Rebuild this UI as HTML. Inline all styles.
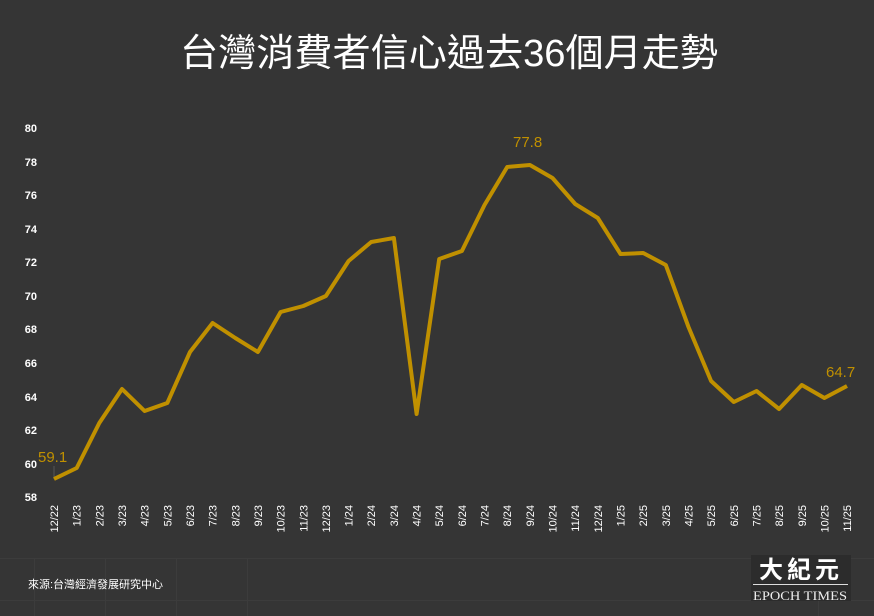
<!DOCTYPE html>
<html><head><meta charset="utf-8"><style>
body{margin:0;background:#353535;}
svg{display:block;font-family:"Liberation Sans","Noto Sans CJK TC",sans-serif;}
</style></head><body>
<svg width="874" height="616" viewBox="0 0 874 616">
<rect width="874" height="616" fill="#353535"/>
<g stroke="#3c3c3c" stroke-width="1">
<line x1="0" y1="558.5" x2="874" y2="558.5"/>
<line x1="0" y1="600.5" x2="874" y2="600.5"/>
<line x1="34.5" y1="558" x2="34.5" y2="616"/>
<line x1="105.5" y1="558" x2="105.5" y2="616"/>
<line x1="176.5" y1="558" x2="176.5" y2="616"/>
<line x1="247.5" y1="558" x2="247.5" y2="616"/>
<line x1="818.5" y1="558" x2="818.5" y2="616"/>
</g>
<text x="180" y="66" fill="#fff" font-size="38" textLength="538" lengthAdjust="spacingAndGlyphs">台灣消費者信心過去36個月走勢</text>
<g fill="#fff" font-size="11" font-weight="bold" text-anchor="end">
<text x="37" y="132">80</text><text x="37" y="166">78</text><text x="37" y="199">76</text>
<text x="37" y="233">74</text><text x="37" y="266">72</text><text x="37" y="300">70</text>
<text x="37" y="333">68</text><text x="37" y="367">66</text><text x="37" y="401">64</text>
<text x="37" y="434">62</text><text x="37" y="468">60</text><text x="37" y="501">58</text>
</g>
<line x1="54" y1="466" x2="54" y2="479" stroke="#555" stroke-width="1"/>
<polyline fill="none" stroke="#c09000" stroke-width="4" stroke-linejoin="round" points="54,479 76.7,468 99.3,423 122,389 144.6,411 167.3,403 190,352 212.6,323 235.3,338 257.9,352 280.6,312 303.3,306 325.9,296 348.6,261 371.2,242 393.9,238 416.6,414 439.2,259 461.9,251 484.5,205 507.2,167 529.9,165 552.5,178 575.2,204 597.8,218 620.5,254 643.2,253 665.8,265 688.5,327 711.1,381 733.8,402 756.5,391 779.1,409 801.8,385 824.4,398 847,386"/>
<g fill="#c09000" font-size="15">
<text x="38" y="462">59.1</text>
<text x="513" y="147">77.8</text>
<text x="826" y="377">64.7</text>
</g>
<g fill="#fff" font-size="11" text-anchor="end">
<text transform="translate(58,505) rotate(-90)">12/22</text>
<text transform="translate(80.7,505) rotate(-90)">1/23</text>
<text transform="translate(103.3,505) rotate(-90)">2/23</text>
<text transform="translate(126,505) rotate(-90)">3/23</text>
<text transform="translate(148.6,505) rotate(-90)">4/23</text>
<text transform="translate(171.3,505) rotate(-90)">5/23</text>
<text transform="translate(194,505) rotate(-90)">6/23</text>
<text transform="translate(216.6,505) rotate(-90)">7/23</text>
<text transform="translate(239.3,505) rotate(-90)">8/23</text>
<text transform="translate(261.9,505) rotate(-90)">9/23</text>
<text transform="translate(284.6,505) rotate(-90)">10/23</text>
<text transform="translate(307.3,505) rotate(-90)">11/23</text>
<text transform="translate(329.9,505) rotate(-90)">12/23</text>
<text transform="translate(352.6,505) rotate(-90)">1/24</text>
<text transform="translate(375.2,505) rotate(-90)">2/24</text>
<text transform="translate(397.9,505) rotate(-90)">3/24</text>
<text transform="translate(420.6,505) rotate(-90)">4/24</text>
<text transform="translate(443.2,505) rotate(-90)">5/24</text>
<text transform="translate(465.9,505) rotate(-90)">6/24</text>
<text transform="translate(488.5,505) rotate(-90)">7/24</text>
<text transform="translate(511.2,505) rotate(-90)">8/24</text>
<text transform="translate(533.9,505) rotate(-90)">9/24</text>
<text transform="translate(556.5,505) rotate(-90)">10/24</text>
<text transform="translate(579.2,505) rotate(-90)">11/24</text>
<text transform="translate(601.8,505) rotate(-90)">12/24</text>
<text transform="translate(624.5,505) rotate(-90)">1/25</text>
<text transform="translate(647.2,505) rotate(-90)">2/25</text>
<text transform="translate(669.8,505) rotate(-90)">3/25</text>
<text transform="translate(692.5,505) rotate(-90)">4/25</text>
<text transform="translate(715.1,505) rotate(-90)">5/25</text>
<text transform="translate(737.8,505) rotate(-90)">6/25</text>
<text transform="translate(760.5,505) rotate(-90)">7/25</text>
<text transform="translate(783.1,505) rotate(-90)">8/25</text>
<text transform="translate(805.8,505) rotate(-90)">9/25</text>
<text transform="translate(828.4,505) rotate(-90)">10/25</text>
<text transform="translate(851,505) rotate(-90)">11/25</text>
</g>
<text x="28" y="588" fill="#fff" font-size="11">來源:台灣經濟發展研究中心</text>
<rect x="751" y="555" width="100" height="46" fill="#2c2c2c"/>
<text x="801" y="578" text-anchor="middle" fill="#fff" font-size="24" font-weight="bold" font-family="Noto Sans CJK TC,sans-serif" letter-spacing="4">大紀元</text>
<line x1="753" y1="584.5" x2="848" y2="584.5" stroke="#ddd" stroke-width="1"/>
<text x="800" y="600" text-anchor="middle" fill="#eee" font-size="13" font-family="Liberation Serif,serif" textLength="94" lengthAdjust="spacingAndGlyphs">EPOCH TIMES</text>
</svg>
</body></html>
